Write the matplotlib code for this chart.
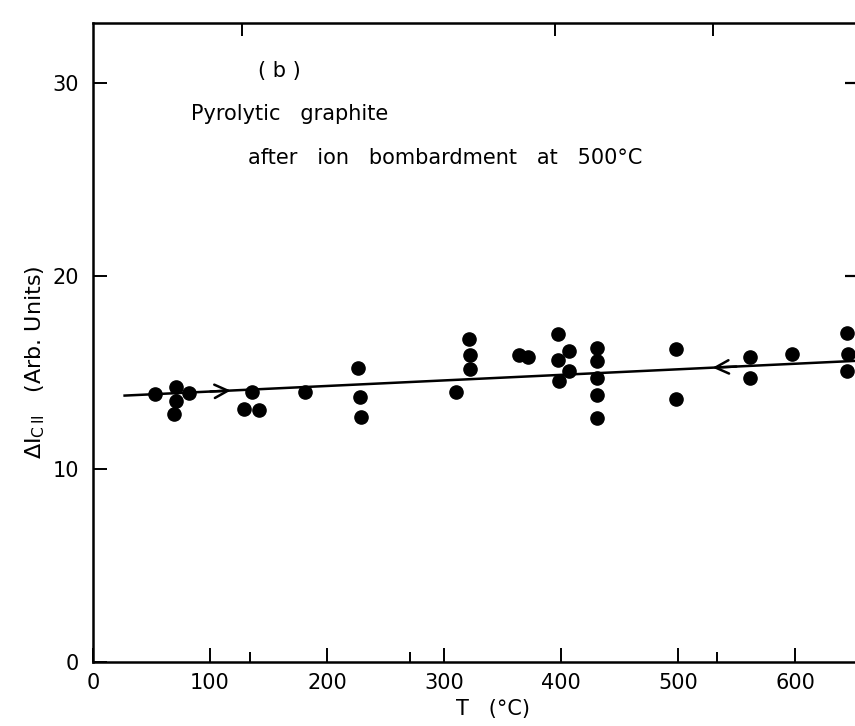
import numpy as np
import matplotlib.pyplot as plt

# measured points, T in deg C, delta I in arb. units
T = [53, 71, 71, 69, 82, 136, 129, 142, 181, 226, 228, 229,
     310, 321, 322, 322, 364, 372, 397, 397, 398, 407, 407,
     431, 431, 431, 431, 431, 498, 498, 561, 561, 597, 644, 645, 644]
dI = [13.9, 14.24, 13.54, 12.85, 13.94, 14.0, 13.13, 13.05, 14.0, 15.24, 13.72, 12.7,
      14.0, 16.73, 15.92, 15.17, 15.88, 15.78, 17.01, 15.64, 14.58, 16.09, 15.06,
      16.27, 15.58, 14.72, 13.85, 12.66, 16.2, 13.61, 15.79, 14.72, 15.95, 17.05, 15.98, 15.07]

# fitted line
line_T = [27, 652]
line_y = [13.8, 15.6]

# arrow tails / heads along the line
arrow_up = (98, 120)
arrow_down = (552, 527)

plt.rcParams['font.family'] = 'DejaVu Sans'

fig = plt.figure(figsize=(8.55, 7.26), dpi=100)
ax = fig.add_axes([93/855, 64/726, 1 - 93/855, (662-23)/726])

ax.plot(line_T, line_y, "k-", lw=1.8)
ax.plot(T, dI, "ko", ms=9.5, mec="k")

for t0, t1 in (arrow_up, arrow_down):
    ax.annotate("", xy=(t1, np.interp(t1, line_T, line_y)),
                xytext=(t0, np.interp(t0, line_T, line_y)),
                arrowprops=dict(arrowstyle="->", lw=1.8, mutation_scale=24, color="k"))

ax.set_xlim(0, 651)
ax.set_ylim(0, 33.1)
ax.set_xticks([0, 100, 200, 300, 400, 500, 600])
ax.set_xticks([134, 271, 533], minor=True)
ax.set_yticks([0, 10, 20, 30])
ax.tick_params(axis="both", which="major", direction="in", length=10, width=1.4,
               labelsize=15, pad=8)
ax.tick_params(axis="x", which="minor", direction="in", length=7, width=1.4)
ax.tick_params(axis="y", pad=10)
for s in ("left", "bottom", "top"):
    ax.spines[s].set_linewidth(1.8)
ax.spines["right"].set_visible(False)

top = ax.secondary_xaxis("top")
top.set_xticks([127, 395, 530])
top.tick_params(direction="in", length=9, width=1.4, labeltop=False)
top.spines["top"].set_visible(False)

right = ax.secondary_yaxis("right")
right.set_yticks([20, 30])
right.tick_params(direction="in", length=7, width=1.6, labelright=False)
right.spines["right"].set_visible(False)

ax.set_xlabel("T   (°C)", fontsize=15)
ax.xaxis.set_label_coords((493-93)/762, -0.058)
ax.set_ylabel(r"$\Delta\mathrm{I}_{\mathrm{C\,II}}$   (Arb. Units)", fontsize=16)
ax.yaxis.set_label_coords(-0.06, (662-362)/639)

ax.text(141, 30.3, "( b )", fontsize=15)
ax.text(84, 28.1, "Pyrolytic   graphite", fontsize=15)
ax.text(132, 25.8, "after   ion   bombardment   at   500°C", fontsize=15)

plt.savefig("out.png", dpi=100)
